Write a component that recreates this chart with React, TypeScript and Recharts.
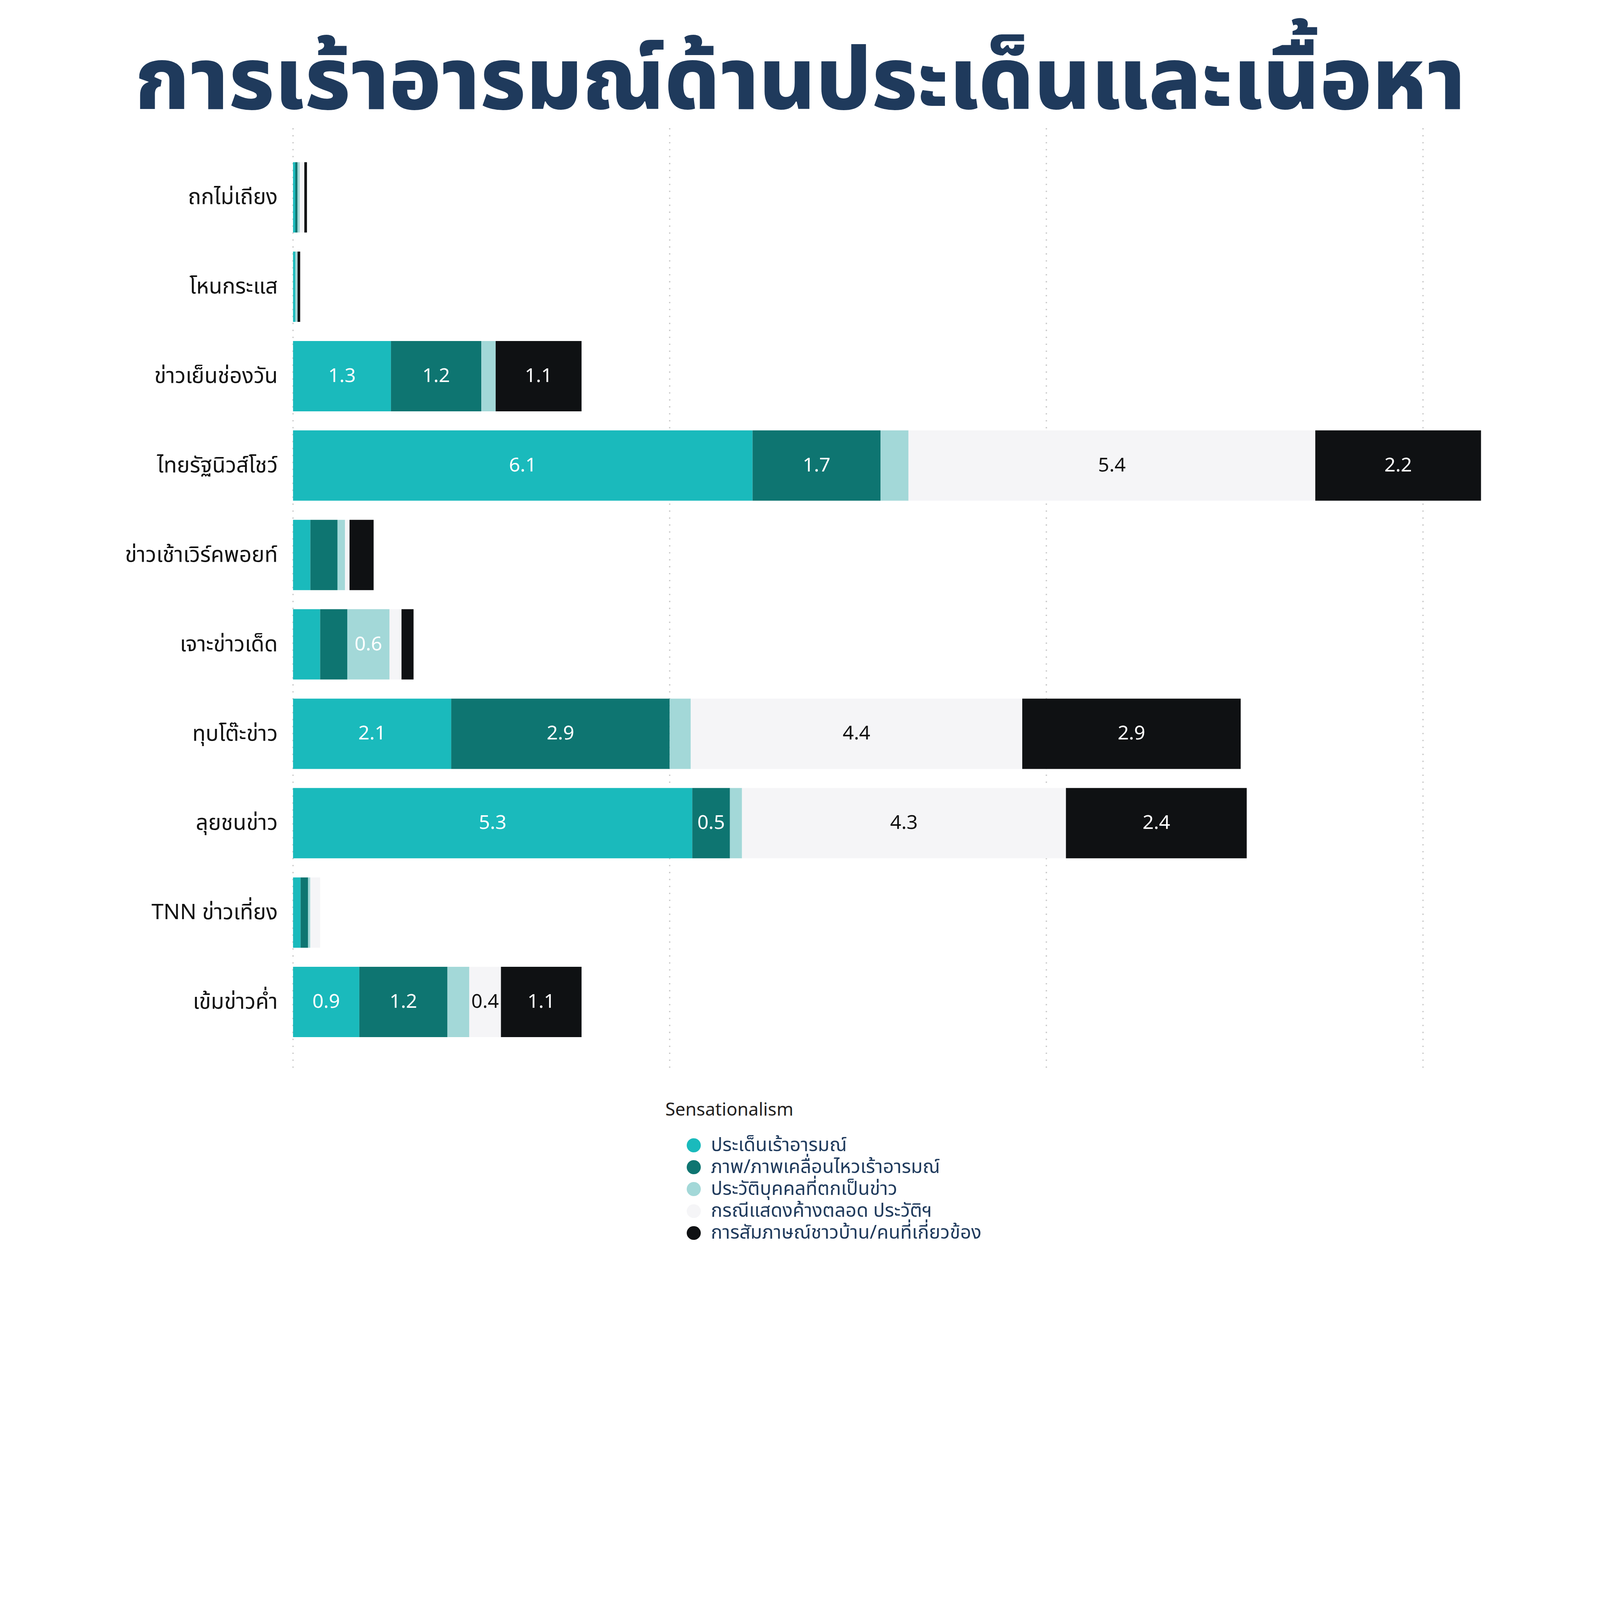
import React from 'react';
import { BarChart, Bar, XAxis, YAxis, CartesianGrid, Legend, LabelList } from 'recharts';

const categories = ['ถกไม่เถียง', 'โหนกระแส', 'ข่าวเย็นช่องวัน', 'ไทยรัฐนิวส์โชว์', 'ข่าวเช้าเวิร์คพอยท์', 'เจาะข่าวเด็ด', 'ทุบโต๊ะข่าว', 'ลุยชนข่าว', 'TNN ข่าวเที่ยง', 'เข้มข่าวค่ำ'];
const issueValues = [0.03, 0.03, 1.3, 6.1, 0.23, 0.36, 2.1, 5.3, 0.1, 0.88];
const imageValues = [0.03, 0, 1.2, 1.7, 0.36, 0.36, 2.9, 0.5, 0.1, 1.17];
const bioValues = [0.03, 0.03, 0.19, 0.37, 0.1, 0.56, 0.28, 0.16, 0.03, 0.29];
const repeatValues = [0.06, 0, 0, 5.4, 0.06, 0.16, 4.4, 4.3, 0.13, 0.42];
const interviewValues = [0.035, 0.035, 1.14, 2.2, 0.32, 0.16, 2.9, 2.4, 0, 1.07];
const seriesNames = ['ประเด็นเร้าอารมณ์', 'ภาพ/ภาพเคลื่อนไหวเร้าอารมณ์', 'ประวัติบุคคลที่ตกเป็นข่าว', 'กรณีแสดงค้างตลอด ประวัติฯ', 'การสัมภาษณ์ชาวบ้าน/คนที่เกี่ยวข้อง'];
const seriesKeys = ['issue', 'image', 'bio', 'repeat', 'interview'];
const seriesColors = ['#1ABABC', '#0E7571', '#A3D8D8', '#F5F5F7', '#0F1113'];
const labelColors = ['#FFFFFF', '#FFFFFF', '#FFFFFF', '#111111', '#FFFFFF'];
const xTicks = [0, 5, 10, 15];
const titleText = 'การเร้าอารมณ์ด้านประเด็นและเนื้อหา';
const legendTitle = 'Sensationalism';

// The browser viewport is 4096 px wide; lay out at reference proportions scaled to fit.
const S = 4096 / 7366;
const p = (v: number) => v * S;

const FONT = "'Noto Sans Thai', 'Noto Sans Thai UI', 'Noto Sans', 'DejaVu Sans', sans-serif";

const data = categories.map((name, i) => ({
  name,
  issue: issueValues[i],
  image: imageValues[i],
  bio: bioValues[i],
  repeat: repeatValues[i],
  interview: interviewValues[i],
}));

const makeLabel = (color: string) => (props: any) => {
  const { x, y, width, height, value } = props;
  if (value == null || value < 0.4) return null;
  return (
    <text
      x={x + width / 2}
      y={y + height / 2}
      textAnchor="middle"
      dominantBaseline="central"
      fill={color}
      fontSize={p(90)}
      fontFamily={FONT}
    >
      {Number(value).toFixed(1)}
    </text>
  );
};

const CategoryTick = (props: any) => {
  const { x, y, payload } = props;
  return (
    <text x={x} y={y} dx={-p(56)} textAnchor="end" dominantBaseline="central" fill="#111111" fontSize={p(100)} fontFamily={FONT}>
      {payload.value}
    </text>
  );
};

const EmptyTick = () => <g />;

const renderLegend = (props: any) => {
  const payload = [...(props.payload || [])].sort(
    (a: any, b: any) => seriesNames.indexOf(a.value) - seriesNames.indexOf(b.value)
  );
  return (
    <div style={{ fontFamily: FONT }}>
      <div style={{ fontSize: p(83), color: '#231F20', lineHeight: `${p(100)}px`, height: p(100), marginBottom: p(60) }}>{legendTitle}</div>
      {payload.map((entry: any) => (
        <div key={entry.value} style={{ display: 'flex', alignItems: 'center', height: p(101), marginLeft: p(99) }}>
          <span style={{ width: p(64), height: p(64), borderRadius: '50%', background: entry.color, display: 'inline-block', marginRight: p(47), flex: 'none' }} />
          <span
            style={{
              fontSize: p(88),
              color: '#1F3A5C',
              whiteSpace: 'nowrap',
              display: 'inline-block',
              height: p(101),
              lineHeight: `${p(101)}px`,
            }}
          >
            {entry.value}
          </span>
        </div>
      ))}
    </div>
  );
};

export default function App() {
  return (
    <div style={{ position: 'absolute', left: 0, top: 0, width: p(7366), height: p(5795), background: '#FFFFFF' }}>
      <div
        style={{
          position: 'absolute',
          left: 0,
          top: p(130),
          width: p(7366),
          textAlign: 'center',
          fontFamily: FONT,
          fontWeight: 800,
          fontSize: p(400),
          lineHeight: `${p(500)}px`,
          color: '#1F3A5C',
          whiteSpace: 'nowrap',
        }}
      >
        {titleText}
      </div>
      <BarChart
        width={p(7366)}
        height={p(5795)}
        data={data}
        layout="vertical"
        margin={{ top: p(590), right: p(468), bottom: p(855), left: 0 }}
        barCategoryGap="10.6%"
        style={{ position: 'absolute', left: 0, top: 0 }}
      >
        <CartesianGrid
          horizontal={false}
          syncWithTicks
          stroke="#C8C8C8"
          strokeWidth={p(6)}
          strokeDasharray={`${p(6)} ${p(26)}`}
        />
        <XAxis
          type="number"
          domain={[0, 16]}
          ticks={xTicks}
          interval={0}
          height={0}
          axisLine={false}
          tickLine={false}
          tick={<EmptyTick />}
        />
        <YAxis
          type="category"
          dataKey="name"
          width={p(1349)}
          axisLine={false}
          tickLine={false}
          tick={<CategoryTick />}
          padding={{ top: p(113), bottom: p(121) }}
          interval={0}
        />
        <Legend
          layout="vertical"
          align="center"
          verticalAlign="middle"
          content={renderLegend}
          wrapperStyle={{ left: p(3063), top: p(5062), width: p(2800) }}
        />
        {seriesKeys.map((key, i) => (
          <Bar key={key} dataKey={key} name={seriesNames[i]} stackId="a" fill={seriesColors[i]} isAnimationActive={false}>
            <LabelList dataKey={key} content={makeLabel(labelColors[i])} />
          </Bar>
        ))}
      </BarChart>
    </div>
  );
}
